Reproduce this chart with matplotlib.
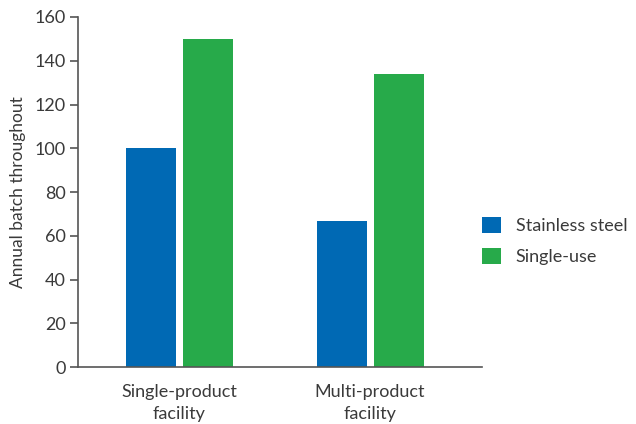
import matplotlib
matplotlib.use("Agg")
import matplotlib.pyplot as plt
import numpy as np

categories = ["Single-product\nfacility", "Multi-product\nfacility"]
series_names = ["Stainless steel", "Single-use"]
stainless = [100, 67]
single_use = [150, 134]
yticks = [0, 20, 40, 60, 80, 100, 120, 140, 160]

plt.rcParams['font.family'] = ['Lato', 'DejaVu Sans']
text_color = "#3a3a3a"

fig = plt.figure(figsize=(6.36, 4.24), dpi=100)
ax = fig.add_axes([0.1226, 0.134, 0.636, 0.826])

x = np.arange(len(categories))
w = 0.262
off = 0.149
ax.bar(x - off, stainless, width=w, color="#0069B4", label=series_names[0])
ax.bar(x + off, single_use, width=w, color="#27AA4A", label=series_names[1])

ax.set_xlim(-0.531, 1.589)
ax.set_ylim(0, 160)
ax.set_yticks(yticks)
ax.set_xticks(x)
ax.set_xticklabels(categories, linespacing=1.45)
ax.set_ylabel("Annual batch throughout", fontsize=12.5, color=text_color, labelpad=6)

for s in ["top", "right"]:
    ax.spines[s].set_visible(False)
for s in ["left", "bottom"]:
    ax.spines[s].set_color("#555555")
    ax.spines[s].set_linewidth(1.2)
ax.tick_params(axis="y", length=6, width=1.2, color="#555555", labelsize=13, labelcolor=text_color, pad=3)
ax.tick_params(axis="x", length=0, labelsize=13, labelcolor=text_color, pad=12)

ax.legend(loc="center left", bbox_to_anchor=(1.0, 0.361), frameon=False,
          fontsize=13, labelcolor=text_color, handlelength=1.0, handleheight=1.0,
          handletextpad=0.85, labelspacing=0.75, borderaxespad=0.0, borderpad=0.0)

fig.savefig("out.png", dpi=100)
